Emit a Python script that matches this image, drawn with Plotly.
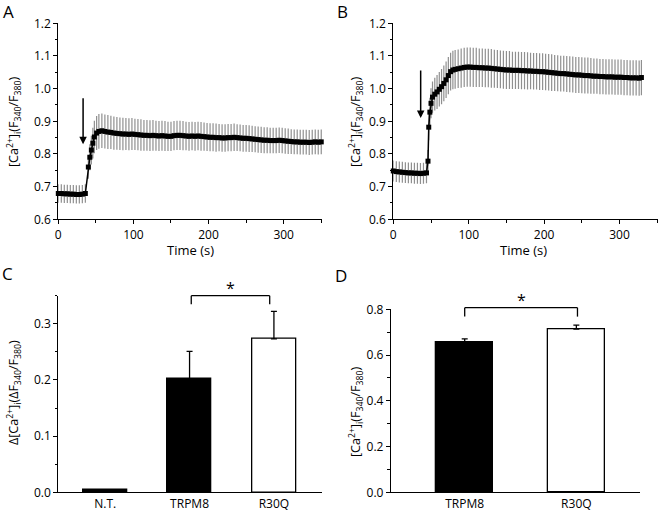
import plotly.graph_objects as go

# ---------------- data ----------------
# Panel A: TRPM8 time course
time_a = [0, 4, 8, 12, 16, 20, 24, 28, 32, 36,
          40, 42, 44, 46, 48, 51, 54, 58, 62, 66, 70, 74, 78, 82, 86, 90, 94, 98,
          102, 106, 110, 114, 118, 122, 126, 130, 134, 138, 142, 146, 150, 154, 158,
          162, 166, 170, 174, 178, 182, 186, 190, 194, 198, 202, 206, 210, 214, 218,
          222, 226, 230, 234, 238, 242, 246, 250, 254, 258, 262, 266, 270, 274, 278,
          282, 286, 290, 294, 298, 302, 306, 310, 314, 318, 322, 326, 330, 334, 338,
          342, 346, 350]
ratio_a = [0.679, 0.679, 0.678, 0.678, 0.677, 0.677, 0.676, 0.676, 0.677, 0.679,
           0.760, 0.790, 0.812, 0.833, 0.852, 0.864, 0.869, 0.871, 0.869, 0.867, 0.866,
           0.864, 0.863, 0.862, 0.861, 0.861, 0.860, 0.861,
           0.860, 0.859, 0.858, 0.857, 0.857, 0.856, 0.857, 0.856, 0.855, 0.856, 0.855,
           0.854, 0.854, 0.856, 0.857,
           0.857, 0.856, 0.855, 0.854, 0.855, 0.854, 0.855, 0.854, 0.853, 0.852, 0.851,
           0.851, 0.850, 0.850, 0.849,
           0.849, 0.850, 0.850, 0.851, 0.850, 0.849, 0.848, 0.848, 0.847, 0.846, 0.845,
           0.844, 0.843, 0.842, 0.842,
           0.841, 0.841, 0.841, 0.842, 0.841, 0.840, 0.839, 0.838, 0.837, 0.837, 0.836,
           0.836, 0.836, 0.835, 0.836,
           0.837, 0.836, 0.837]
sem_a = [0.028, 0.028, 0.028, 0.028, 0.028, 0.028, 0.028, 0.028, 0.028, 0.028,
         0.036, 0.040, 0.044, 0.047, 0.050, 0.052, 0.053, 0.053, 0.052, 0.052, 0.051,
         0.051, 0.050, 0.050, 0.050, 0.049, 0.049, 0.049,
         0.048, 0.048, 0.048, 0.047, 0.047, 0.047, 0.047, 0.046, 0.046, 0.046, 0.046,
         0.045, 0.045, 0.045, 0.045,
         0.045, 0.045, 0.044, 0.044, 0.044, 0.044, 0.044, 0.044, 0.043, 0.043, 0.043,
         0.043, 0.043, 0.042, 0.042,
         0.042, 0.042, 0.042, 0.042, 0.041, 0.041, 0.041, 0.041, 0.041, 0.040, 0.040,
         0.040, 0.040, 0.040, 0.040,
         0.039, 0.039, 0.039, 0.039, 0.039, 0.039, 0.039, 0.038, 0.038, 0.038, 0.038,
         0.038, 0.038, 0.038, 0.038,
         0.038, 0.038, 0.038]

# Panel B: R30Q time course
time_b = [0, 4, 8, 12, 16, 20, 24, 28, 32, 36, 40, 44,
          46, 47, 48.5, 50, 52, 55, 58, 61, 64, 67, 70, 73, 76, 79, 82, 86, 90, 94, 98,
          102, 106, 110, 114, 118, 122, 126, 130, 134, 138, 142, 146, 150, 154, 158,
          162, 166, 170, 174, 178, 182, 186, 190, 194, 198, 202, 206, 210, 214, 218,
          222, 226, 230, 234, 238, 242, 246, 250, 254, 258, 262, 266, 270, 274, 278,
          282, 286, 290, 294, 298, 302, 306, 310, 314, 318, 322, 326, 329]
ratio_b = [0.748, 0.746, 0.745, 0.744, 0.743, 0.742, 0.742, 0.741, 0.741, 0.740, 0.741, 0.742,
           0.778, 0.882, 0.928, 0.955, 0.974, 0.983, 0.990, 0.998, 1.006, 1.016, 1.027,
           1.040, 1.052, 1.057, 1.059, 1.061, 1.063, 1.065, 1.066,
           1.066, 1.065, 1.065, 1.064, 1.064, 1.063, 1.063, 1.062, 1.061, 1.060, 1.059,
           1.058, 1.057, 1.057, 1.056,
           1.056, 1.056, 1.055, 1.055, 1.054, 1.054, 1.053, 1.053, 1.052, 1.052, 1.051,
           1.050, 1.049, 1.048, 1.047,
           1.046, 1.046, 1.045, 1.044, 1.043, 1.042, 1.042, 1.041, 1.040, 1.040, 1.039,
           1.038, 1.038, 1.037, 1.037,
           1.036, 1.036, 1.036, 1.035, 1.035, 1.035, 1.034, 1.034, 1.033, 1.033, 1.033,
           1.032, 1.034]
sem_b = [0.032, 0.032, 0.032, 0.032, 0.032, 0.032, 0.032, 0.032, 0.032, 0.032, 0.032, 0.032,
         0.034, 0.040, 0.044, 0.046, 0.048, 0.050, 0.052, 0.053, 0.054, 0.055, 0.056,
         0.057, 0.058, 0.059, 0.059, 0.059, 0.060, 0.060, 0.060,
         0.060, 0.060, 0.060, 0.059, 0.059, 0.059, 0.059, 0.059, 0.058, 0.058, 0.058,
         0.058, 0.058, 0.058, 0.057,
         0.057, 0.057, 0.057, 0.057, 0.057, 0.056, 0.056, 0.056, 0.056, 0.056, 0.056,
         0.056, 0.056, 0.055, 0.055,
         0.055, 0.055, 0.055, 0.055, 0.055, 0.055, 0.055, 0.055, 0.055, 0.055, 0.055,
         0.054, 0.054, 0.054, 0.054,
         0.054, 0.054, 0.054, 0.054, 0.054, 0.054, 0.054, 0.054, 0.054, 0.054, 0.054,
         0.054, 0.054]

# Panel C: peak change
groups_c = ["N.T.", "TRPM8", "R30Q"]
delta_c = [0.004, 0.202, 0.273]
sem_c = [0.0, 0.049, 0.049]
fill_c = ["black", "black", "white"]

# Panel D: peak ratio
groups_d = ["TRPM8", "R30Q"]
peak_d = [0.655, 0.713]
sem_d = [0.016, 0.018]
fill_d = ["black", "white"]

# arrow (agonist application) positions
arrow_a = dict(t=33, top=0.975, tip=0.83)
arrow_b = dict(t=36.3, top=1.06, tip=0.91)

# ---------------- figure ----------------
W, H = 660, 510
FONT = "Open Sans"
ytitle = "[Ca<sup>2+</sup>]<sub>i</sub>(F<sub>340</sub>/F<sub>380</sub>)"
ytitle_c = "Δ[Ca<sup>2+</sup>]<sub>i</sub>(ΔF<sub>340</sub>/F<sub>380</sub>)"

fig = go.Figure()

def series(x, y, e, xa, ya):
    fig.add_trace(go.Scatter(
        x=x, y=y, xaxis=xa, yaxis=ya, mode="lines+markers",
        line=dict(color="black", width=1.5),
        marker=dict(symbol="square", size=5, color="black"),
        error_y=dict(type="data", array=e, color="#8f8f8f", thickness=1.2, width=0),
        showlegend=False, cliponaxis=False))

series(time_a, ratio_a, sem_a, "x", "y")
series(time_b, ratio_b, sem_b, "x2", "y2")

fig.add_trace(go.Bar(
    x=[0, 1, 2], y=delta_c, xaxis="x3", yaxis="y3", width=0.52,
    marker=dict(color=fill_c, line=dict(color="black", width=1.3)),
    error_y=dict(type="data", symmetric=False, array=sem_c, arrayminus=[0, 0, 0],
                 color="black", thickness=1.3, width=3),
    showlegend=False))
fig.add_trace(go.Bar(
    x=[0, 1], y=peak_d, xaxis="x4", yaxis="y4", width=0.51,
    marker=dict(color=fill_d, line=dict(color="black", width=1.3)),
    error_y=dict(type="data", symmetric=False, array=sem_d, arrayminus=[0, 0],
                 color="black", thickness=1.3, width=3),
    showlegend=False))

axfont = dict(family=FONT, size=12, color="black")
base = dict(showline=True, linecolor="black", linewidth=1.3, showgrid=False,
            zeroline=False, ticks="outside", ticklen=4, tickwidth=1.2,
            tickcolor="black", tickfont=axfont, automargin=False)
minor = dict(ticks="outside", ticklen=2.5, tickwidth=1, tickcolor="black")

dom_top = [1 - 219.3 / H, 1 - 23.3 / H]
dom_c = [1 - 492.3 / H, 1 - 295.7 / H]
dom_d = [1 - 492.3 / H, 1 - 309.3 / H]

fig.update_layout(
    width=W, height=H, margin=dict(l=0, r=0, t=0, b=0, pad=0, autoexpand=False),
    paper_bgcolor="white", plot_bgcolor="white",
    font=dict(family=FONT, size=12, color="black"),
    bargap=0,
    xaxis=dict(base, domain=[58.3 / W, 322 / W], range=[0, 351], anchor="y",
               tickvals=[0, 100, 200, 300], minor=dict(minor, dtick=50, tick0=0)),
    yaxis=dict(base, domain=dom_top, range=[0.6, 1.2], anchor="x",
               dtick=0.1, tickformat=".1f", minor=dict(minor, dtick=0.05, tick0=0.6)),
    xaxis2=dict(base, domain=[393.3 / W, 658 / W], range=[0, 351], anchor="y2",
                tickvals=[0, 100, 200, 300], minor=dict(minor, dtick=50, tick0=0)),
    yaxis2=dict(base, domain=dom_top, range=[0.6, 1.2], anchor="x2",
                dtick=0.1, tickformat=".1f", minor=dict(minor, dtick=0.05, tick0=0.6)),
    xaxis3=dict(base, domain=[58.3 / W, 322 / W], range=[-0.556, 2.57], anchor="y3",
                tickvals=[0, 1, 2], ticktext=groups_c, ticks=""),
    yaxis3=dict(base, domain=dom_c, range=[0, 0.35], anchor="x3",
                dtick=0.1, tickformat=".1f", minor=dict(minor, dtick=0.05, tick0=0)),
    xaxis4=dict(base, domain=[391 / W, 640 / W], range=[-0.66, 1.57], anchor="y4",
                tickvals=[0, 1], ticktext=groups_d, ticks=""),
    yaxis4=dict(base, domain=dom_d, range=[0, 0.8], anchor="x4",
                dtick=0.2, tickformat=".1f", minor=dict(minor, dtick=0.1, tick0=0)),
)

def paper_y(v, dom, rng):
    return dom[0] + (v - rng[0]) / (rng[1] - rng[0]) * (dom[1] - dom[0])

# significance brackets
def bracket(xref, x0, x1, ylo, yhi, ystar, dom, rng):
    pl, ph = paper_y(ylo, dom, rng), paper_y(yhi, dom, rng)
    for xs, ys in [((x0, x0), (pl, ph)), ((x0, x1), (ph, ph)), ((x1, x1), (ph, pl))]:
        fig.add_shape(type="line", xref=xref, yref="paper", x0=xs[0], x1=xs[1],
                      y0=ys[0], y1=ys[1], line=dict(color="black", width=1.3))
    fig.add_annotation(xref=xref, yref="paper", x=(x0 + x1) / 2,
                       y=paper_y(ystar, dom, rng), text="*", showarrow=False,
                       font=dict(family=FONT, size=16, color="black"))

bracket("x3", 1.02, 1.95, 0.335, 0.35, 0.363, dom_c, [0, 0.35])
bracket("x4", 0.0, 1.01, 0.768, 0.807, 0.84, dom_d, [0, 0.8])

# arrows marking agonist application
for xa, ya, a in [("x", "y", arrow_a), ("x2", "y2", arrow_b)]:
    fig.add_annotation(xref=xa, yref=ya, x=a["t"], y=a["tip"], axref=xa, ayref=ya,
                       ax=a["t"], ay=a["top"], text="", showarrow=True,
                       arrowhead=2, arrowsize=1, arrowwidth=1.5, arrowcolor="black")

# axis titles and panel letters as paper annotations
def label(text, px, py, size=12, angle=0):
    fig.add_annotation(xref="paper", yref="paper", x=px / W, y=1 - py / H,
                       text=text, showarrow=False, textangle=angle,
                       xanchor="center", yanchor="middle",
                       font=dict(family=FONT, size=size, color="black"))

label(ytitle, 14, 122, size=12.5, angle=-90)
label(ytitle, 356, 122, size=12.5, angle=-90)
label(ytitle_c, 14, 393, size=12.5, angle=-90)
label(ytitle, 356, 412, size=12.5, angle=-90)
label("Time (s)", 190, 250, size=13)
label("Time (s)", 523, 250, size=13)
label("A", 8, 11, size=17)
label("B", 342, 11, size=17)
label("C", 7, 273, size=17)
label("D", 341, 275, size=17)

fig.write_html(
    "out.html",
    config={"displayModeBar": False},
    post_script="document.body.style.margin='0';document.body.style.overflow='hidden';",
)
